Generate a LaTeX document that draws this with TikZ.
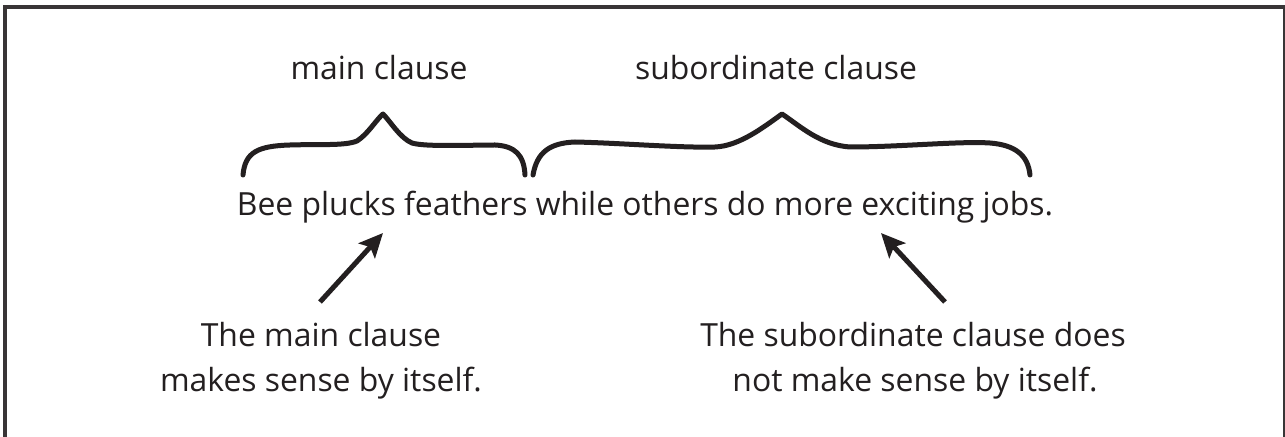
\documentclass[tikz,border=0pt]{standalone}
\usepackage{fontspec}
\setmainfont{Open Sans}
\usetikzlibrary{arrows.meta}
\definecolor{ink}{RGB}{35,31,32}
\begin{document}
\begin{tikzpicture}[x=1bp,y=-1bp,
  txt/.style={inner sep=0pt,anchor=base,text=ink,font=\fontsize{32}{45}\selectfont},
  brace/.style={draw=ink,line width=5bp,line cap=round,line join=round},
  pointer/.style={draw=ink,line width=5bp,-{Stealth[length=24bp,width=22bp,inset=5bp]}}]
\useasboundingbox (0,0) rectangle (1285,437);
\clip (0,0) rectangle (1285,437);
\fill[white] (0,0) rectangle (1285,437);
\draw[line width=3.5bp,draw=ink!90] (5,7) rectangle (1284.5,460);
% labels
\node[txt] (mainlab) at (379,80) {main clause};
\node[txt] (sublab) at (776,80) {subordinate clause};
% sentence
\node[txt] (sent) at (645,216) {Bee plucks feathers while others do more exciting jobs.};
% braces
\draw[brace] (243,175) .. controls (245,152) and (258,146) .. (290,145)
  .. controls (320,144) and (345,146) .. (357,141)
  .. controls (368,134) and (376,120) .. (383,114)
  .. controls (390,121) and (400,138) .. (412,143)
  .. controls (425,147) and (470,145) .. (495,145)
  .. controls (515,146) and (524,155) .. (525,175);
\draw[brace] (533,175) .. controls (537,152) and (550,143) .. (575,142)
  .. controls (620,143) and (680,148) .. (715,147)
  .. controls (740,146) and (765,126) .. (782,114)
  .. controls (800,126) and (820,145) .. (850,147)
  .. controls (900,147) and (960,141) .. (990,143)
  .. controls (1015,145) and (1028,155) .. (1030,175);
% bottom notes
\node[txt] (mainA) at (321,347) {The main clause};
\node[txt] (mainB) at (321,392) {makes sense by itself.};
\node[txt] (subA) at (913,347) {The subordinate clause does};
\node[txt] (subB) at (915,392) {not make sense by itself.};
% arrows
\coordinate (lt) at (320,302);
\coordinate (lh) at (383,233);
\coordinate (rt) at (945,302);
\coordinate (rh) at (881,233);
\draw[pointer] (lt) -- (lh);
\draw[pointer] (rt) -- (rh);
\end{tikzpicture}
\end{document}
